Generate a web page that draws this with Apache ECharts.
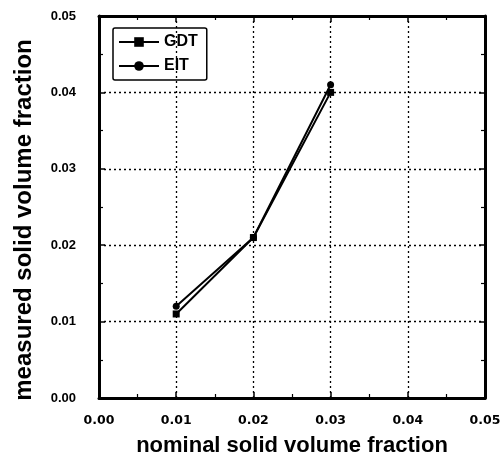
<!DOCTYPE html>
<html>
<head>
<meta charset="utf-8">
<script src="https://cdn.jsdelivr.net/npm/echarts@6/dist/echarts.min.js"></script>
<style>
  html, body { margin: 0; padding: 0; background: #fff; }
  #main { width: 502px; height: 454px; }
</style>
</head>
<body>
<div id="main"></div>
<script>
var nominal = [0.01, 0.02, 0.03];
var gdt = [0.011, 0.021, 0.040];
var eit = [0.012, 0.021, 0.041];
var xName = 'nominal solid volume fraction';
var yName = 'measured solid volume fraction';

function pairs(xs, ys) {
    var out = [];
    for (var i = 0; i < xs.length; i++) out.push([xs[i], ys[i]]);
    return out;
}

var font = 'Liberation Sans, Arial, sans-serif';
var chart = echarts.init(document.getElementById('main'));

function axisBase(pos, showLabel, name) {
    var isY = (pos === 'left' || pos === 'right');
    return {
        type: 'value',
        position: pos,
        min: 0, max: 0.05, interval: 0.01,
        name: name || '',
        nameLocation: 'middle',
        nameGap: pos === 'left' ? 63 : 37,
        nameTextStyle: {
            color: '#000', fontFamily: font, fontWeight: 'bold',
            fontSize: isY ? 24 : 22,
            // y title sits a little below the plot middle in the original
            padding: isY ? [0, 26, 0, 0] : 0
        },
        axisLine: { show: true, onZero: false, lineStyle: { color: '#000', width: 3 } },
        axisTick: { show: true, inside: true, length: 6, lineStyle: { color: '#000', width: 1.5 } },
        minorTick: { show: true, splitNumber: 2, length: 4, lineStyle: { color: '#000', width: 1.2 } },
        splitLine: { show: showLabel, lineStyle: { color: '#000', type: [2, 3], width: 1.3 } },
        axisLabel: {
            show: showLabel, color: '#000',
            fontFamily: isY ? font : 'DejaVu Sans, sans-serif',
            fontWeight: 'bold', fontSize: isY ? 13 : 12.5,
            margin: isY ? 23 : 16,
            formatter: function (v) { return v.toFixed(2); }
        }
    };
}

chart.setOption({
    backgroundColor: '#fff',
    animation: false,
    grid: { left: 99, right: 17, top: 16, bottom: 56, containLabel: false, outerBoundsMode: 'none' },
    legend: {
        orient: 'vertical',
        left: 113, top: 28,
        padding: [6, 9, 6, 5],
        itemGap: 8,
        itemWidth: 40, itemHeight: 12,
        borderColor: '#000', borderWidth: 1.5, borderRadius: 2,
        textStyle: { color: '#000', fontFamily: font, fontWeight: 'bold', fontSize: 16 },
        data: ['GDT', 'EIT']
    },
    xAxis: [axisBase('bottom', true, xName), axisBase('top', false)],
    yAxis: [axisBase('left', true, yName), axisBase('right', false)],
    series: [
        {
            name: 'GDT', type: 'line', xAxisIndex: 0, yAxisIndex: 0,
            data: pairs(nominal, gdt),
            symbol: 'rect', symbolSize: 7,
            lineStyle: { color: '#000', width: 2 },
            itemStyle: { color: '#000' }
        },
        {
            name: 'EIT', type: 'line', xAxisIndex: 0, yAxisIndex: 0,
            data: pairs(nominal, eit),
            symbol: 'circle', symbolSize: 7,
            lineStyle: { color: '#000', width: 2 },
            itemStyle: { color: '#000' }
        }
    ]
});
</script>
</body>
</html>
